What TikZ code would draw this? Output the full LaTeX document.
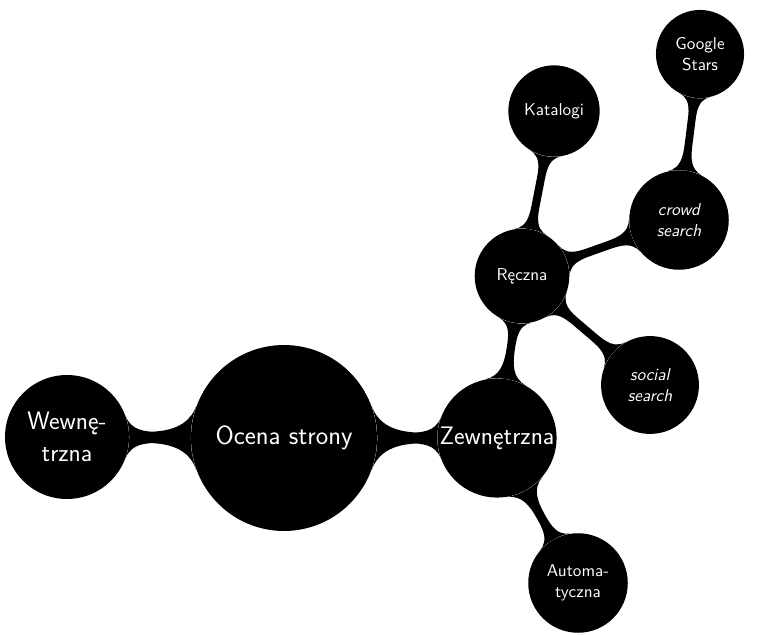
\documentclass[tikz,border=0pt]{standalone}
\usetikzlibrary{mindmap}
\begin{document}
\begin{tikzpicture}[x=0.613pt,y=-0.613pt,
  bubble/.style={circle, fill=black, text=white, align=center, inner sep=0pt},
  big/.style={font=\sffamily\fontsize{15.5}{20}\selectfont},
  small/.style={font=\sffamily\fontsize{10.5}{12.6}\selectfont},
  smallit/.style={font=\sffamily\itshape\fontsize{10.5}{12.6}\selectfont},
  bar/.style={circle connection bar switch color=from (black) to (black), line width=#1},
  bar/.default=5pt]
\useasboundingbox (0,0) rectangle (757,635);
% concepts
\node[bubble, minimum size=114pt, font=\sffamily\fontsize{16.2}{20}\selectfont] (root) at (284,438) {Ocena strony};
\node[bubble, big, minimum size=76pt] (wew) at (67,437) {Wewnę-\\trzna};
\node[bubble, big, minimum size=73pt] (zew) at (497,438) {Zewnętrzna};
\node[bubble, small, minimum size=58pt] (rec) at (522,276) {Ręczna};
\node[bubble, small, minimum size=61pt] (aut) at (578,583) {Automa-\\tyczna};
\node[bubble, small, minimum size=56pt] (kat) at (554,111) {Katalogi};
\node[bubble, smallit, minimum size=61pt] (crowd) at (679,220) {crowd\\search};
\node[bubble, smallit, minimum size=60pt] (social) at (650,385) {social\\search};
\node[bubble, small, minimum size=54pt] (goo) at (700,54) {Google\\Stars};
% connections
\path (root) to[bar=8pt] (wew);
\path (root) to[bar=8pt] (zew);
\path (zew) to[bar] (rec);
\path (zew) to[bar] (aut);
\path (rec) to[bar] (kat);
\path (rec) to[bar] (crowd);
\path (rec) to[bar] (social);
\path (crowd) to[bar] (goo);
\end{tikzpicture}
\end{document}
